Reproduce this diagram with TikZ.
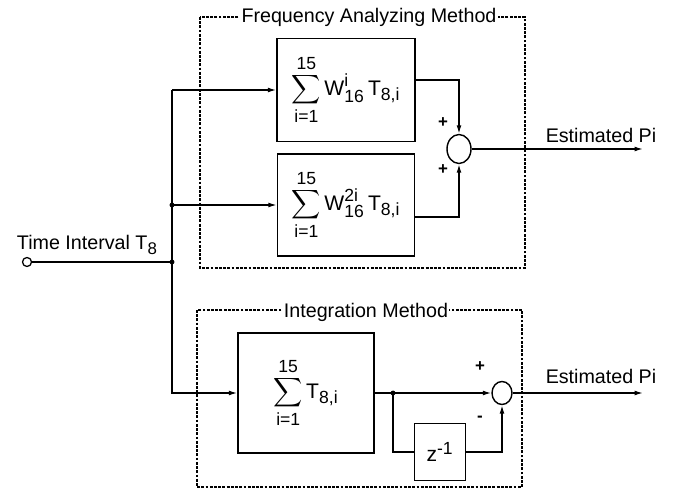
\documentclass[tikz,border=0pt]{standalone}
\usepackage{amsmath}
\usepackage{fontspec}
\setmainfont{Liberation Sans}
\usetikzlibrary{positioning,arrows.meta,shapes.geometric}
\DeclareMathSizes{14}{14}{12}{10}
\DeclareMathSizes{15}{15}{12.5}{10}
\newcommand{\pxu}{0.025cm}

\begin{document}
\begin{tikzpicture}[x=0.025cm, y=-0.025cm,
  font=\fontsize{14}{17}\selectfont,
  blk/.style    = {rectangle, draw, line width=1pt, inner sep=0pt,
                   font=\fontsize{15}{18}\selectfont},
  summer/.style = {ellipse, draw, line width=1pt, inner sep=0pt},
  grp/.style    = {draw, line width=0.9pt, dash pattern=on 2pt off 1pt},
  ttl/.style    = {fill=white, inner sep=1pt},
  sig/.style    = {line width=1pt, -{Latex[length=6pt,width=3.5pt]}},
  wire/.style   = {line width=1pt},
  dot/.style    = {circle, fill, inner sep=0pt, minimum size=3.5pt},
  sgn/.style    = {font=\fontsize{12}{14}\selectfont\bfseries}
]
  \useasboundingbox (0,0) rectangle (683,491);

  % ---- Group frames ----
  \draw[grp] (200,17) rectangle (525,268);
  \node[ttl] at (369,17) (fatitle) {Frequency Analyzing Method};
  \draw[grp] (197,310) rectangle (522,487);
  \node[ttl] at (366,312) (intitle) {Integration Method};

  % ---- Blocks ----
  \node[blk, minimum width=138*\pxu, minimum height=103*\pxu] at (346,90)  (fa1)
    {$\displaystyle\sum_{\text{i=1}}^{\text{15}}\text{W}_{\text{16}}^{\text{i}}\,\text{T}_{\text{8,i}}$};
  \node[blk, minimum width=137*\pxu, minimum height=102*\pxu] at (346,205) (fa2)
    {$\displaystyle\sum_{\text{i=1}}^{\text{15}}\text{W}_{\text{16}}^{\text{2i}}\,\text{T}_{\text{8,i}}$};
  \node[blk, minimum width=136*\pxu, minimum height=120*\pxu] at (306,393) (intb)
    {$\displaystyle\sum_{\text{i=1}}^{\text{15}}\text{T}_{\text{8,i}}$};
  \node[blk, minimum width=51*\pxu, minimum height=57*\pxu] at (440,452) (delay)
    {z$^{\text{-1}}$};

  % ---- Summing points ----
  \node[summer, minimum width=24*\pxu, minimum height=29*\pxu] at (459,149) (sfa) {};
  \node[summer, minimum width=20*\pxu, minimum height=23*\pxu] at (502,393) (sint) {};

  % ---- Input ----
  \node[circle, draw, line width=0.9pt, inner sep=0pt, minimum size=9*\pxu] at (27,262) (tin) {};
  \node[anchor=base west] at (12,250) (tlbl) {Time Interval T$_{\text{8}}$};
  \coordinate (j1) at (172,90);
  \coordinate (j2) at (172,205);
  \coordinate (j0) at (172,262);
  \coordinate (j4) at (393,393);
  \coordinate (out1) at (643,149);
  \coordinate (out2) at (643,393);

  % ---- Bus and feeds ----
  \draw[wire] (tin) -- (j0);
  \draw[wire] (j0) -- (j1);
  \draw[sig] (j1) -- (fa1.west);
  \draw[sig] (j2) -- (fa2.west);
  \draw[sig] (j0) |- (intb.west);
  \node[dot] at (j2) {};
  \node[dot] at (j0) {};

  % ---- Frequency analyzing path ----
  \draw[sig] ([yshift=0.25cm]fa1.east) -| (sfa.north);
  \draw[sig] ([yshift=-0.3cm]fa2.east) -| (sfa.south);
  \draw[sig] (sfa.east) -- (out1);
  \node[sgn] at (443,123) {+};
  \node[sgn] at (443,170) {+};
  \node at (601,135) (est1) {Estimated Pi};

  % ---- Integration path ----
  \draw[sig] (intb.east) -- (sint.west);
  \node[dot] at (j4) {};
  \draw[wire] (j4) |- (delay.west);
  \draw[sig] (delay.east) -| (sint.south);
  \draw[sig] (sint.east) -- (out2);
  \node[sgn] at (480,367) {+};
  \node[sgn] at (480,419) {-};
  \node at (601,376) (est2) {Estimated Pi};
\end{tikzpicture}
\end{document}
